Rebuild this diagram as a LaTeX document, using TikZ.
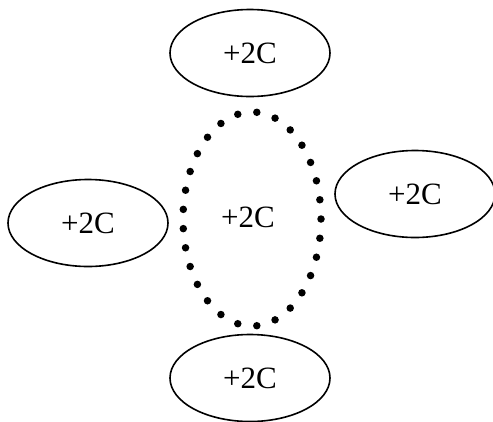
\documentclass[tikz,border=0pt]{standalone}
\usepackage{fontspec}
\setmainfont{Liberation Serif}
\usetikzlibrary{shapes.geometric}
\tikzset{
  lbl/.style={font=\fontsize{31}{31}\selectfont},
  oval/.style={ellipse, draw, line width=1.6pt, inner sep=0pt,
    minimum width=160pt, minimum height=87pt, lbl},
  dotoval/.style={ellipse, draw, line width=7.5pt, line cap=round,
    dash pattern=on 0pt off 19.29pt, inner sep=0pt,
    minimum width=138pt, minimum height=214pt}
}
\begin{document}
\begin{tikzpicture}[x=1pt,y=-1pt]
\useasboundingbox (0,0) rectangle (493,421);
\node[dotoval] (mid) at (252,219) {};
\node[lbl] (midt) at (248,217) {+2C};
\node[oval] (top) at (250,53) {+2C};
\node[oval] (left) at (88,223) {+2C};
\node[oval] (right) at (415,194) {+2C};
\node[oval] (bot) at (250,378) {+2C};
\end{tikzpicture}
\end{document}
